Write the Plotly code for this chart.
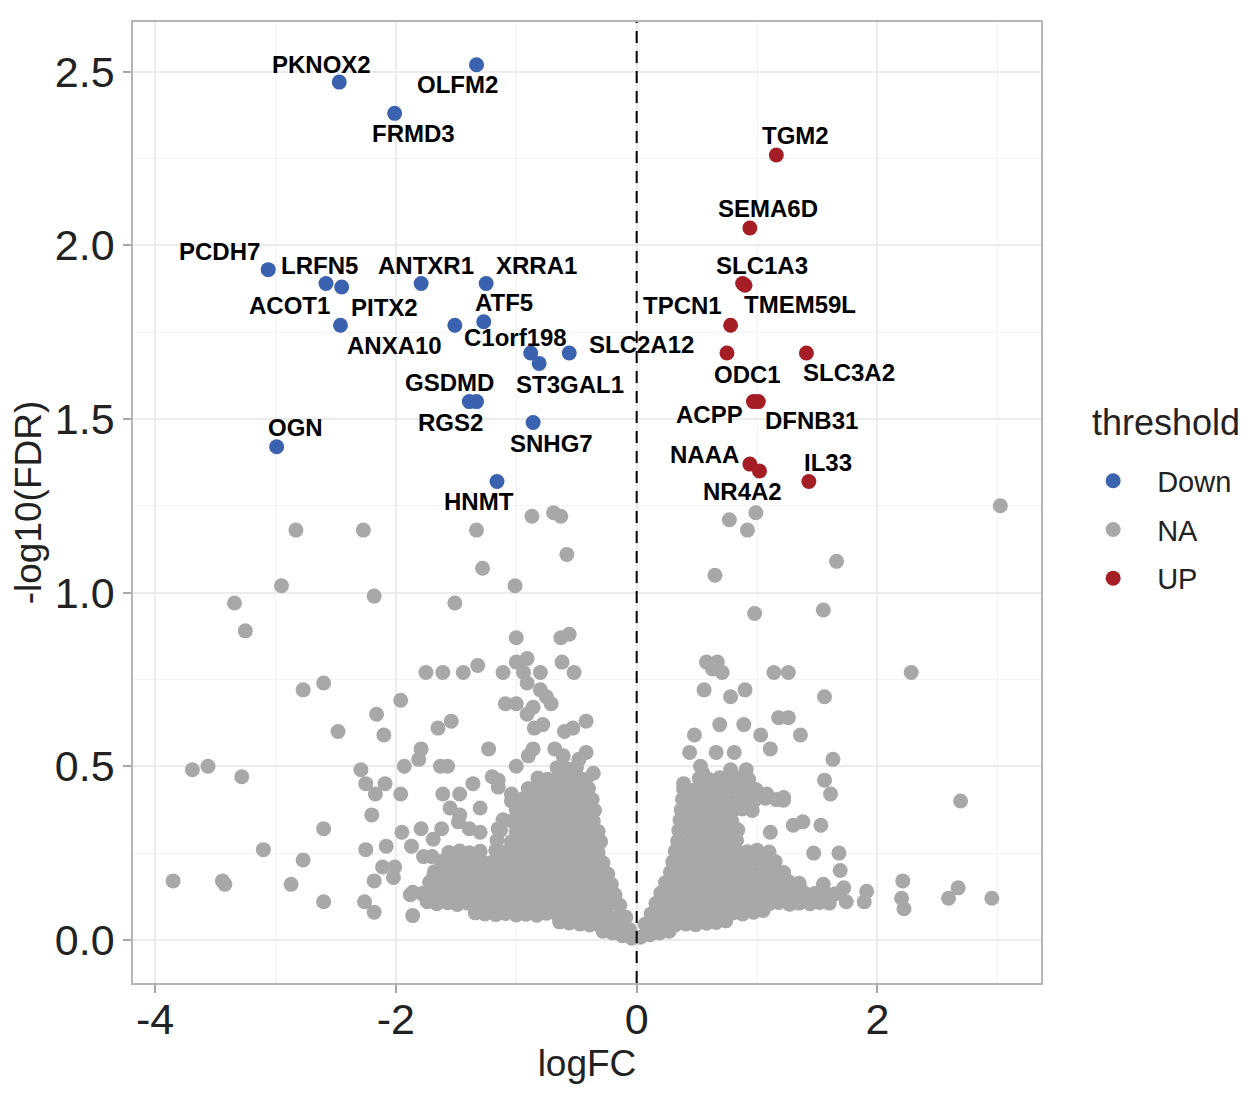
import plotly.graph_objects as go

# significant genes
down_genes = ["PKNOX2", "OLFM2", "FRMD3", "PCDH7", "LRFN5", "ACOT1", "ANTXR1", "XRRA1",
              "PITX2", "ANXA10", "ATF5", "C1orf198", "ST3GAL1", "SLC2A12", "GSDMD", "RGS2",
              "SNHG7", "OGN", "HNMT"]
down_logfc = [-2.47, -1.33, -2.01, -3.06, -2.58, -2.45, -1.79, -1.25,
              -2.46, -1.51, -1.27, -0.88, -0.81, -0.56, -1.39, -1.33,
              -0.86, -2.99, -1.16]
down_fdr = [2.47, 2.52, 2.38, 1.93, 1.89, 1.88, 1.89, 1.89,
            1.77, 1.77, 1.78, 1.69, 1.66, 1.69, 1.55, 1.55,
            1.49, 1.42, 1.32]

up_genes = ["TGM2", "SEMA6D", "SLC1A3", "TMEM59L", "TPCN1", "ODC1", "SLC3A2",
            "ACPP", "DFNB31", "NAAA", "NR4A2", "IL33"]
up_logfc = [1.16, 0.94, 0.88, 0.90, 0.78, 0.75, 1.41, 0.97, 1.01, 0.94, 1.02, 1.43]
up_fdr = [2.26, 2.05, 1.89, 1.885, 1.77, 1.69, 1.69, 1.55, 1.55, 1.37, 1.35, 1.32]

# non-significant genes, (logFC, -log10(FDR)) pairs
ns_left_tail = [
    (-2.83, 1.18), (-2.27, 1.18), (-2.95, 1.02), (-2.18, 0.99), (-3.34, 0.97), (-3.25, 0.89),
    (-2.77, 0.72), (-2.60, 0.74), (-2.16, 0.65), (-2.48, 0.60), (-2.10, 0.59), (-3.69, 0.49),
    (-3.56, 0.50), (-3.28, 0.47), (-2.29, 0.49), (-2.25, 0.45), (-2.17, 0.42), (-2.09, 0.45),
    (-2.20, 0.36), (-2.60, 0.32), (-3.10, 0.26), (-2.77, 0.23), (-2.25, 0.26), (-2.08, 0.27),
    (-2.11, 0.21), (-3.85, 0.17), (-3.44, 0.17), (-3.42, 0.16), (-2.87, 0.16), (-2.60, 0.11),
    (-2.26, 0.11), (-2.18, 0.08), (-2.18, 0.17),
    (-0.87, 1.22), (-0.69, 1.23), (-0.63, 1.22), (-1.33, 1.18), (-0.58, 1.11), (-1.28, 1.07),
    (-1.01, 1.02), (-1.51, 0.97), (-1.00, 0.87), (-0.63, 0.87), (-0.56, 0.88), (-1.75, 0.77),
    (-1.61, 0.77), (-1.44, 0.77), (-1.32, 0.79), (-1.11, 0.77), (-1.00, 0.80), (-0.91, 0.81),
    (-0.94, 0.77), (-0.80, 0.77), (-0.62, 0.80), (-0.52, 0.77), (-0.91, 0.74), (-0.80, 0.72),
    (-1.96, 0.69), (-1.09, 0.68), (-1.00, 0.68), (-0.91, 0.65), (-0.86, 0.67), (-0.71, 0.68),
    (-0.75, 0.70), (-1.65, 0.61), (-1.54, 0.63), (-0.85, 0.61), (-0.78, 0.62), (-0.60, 0.60),
    (-0.53, 0.61), (-0.42, 0.63), (-1.79, 0.55), (-1.81, 0.52), (-1.23, 0.55), (-0.86, 0.55),
    (-0.90, 0.53), (-0.68, 0.55), (-0.61, 0.53), (-0.42, 0.54), (-0.48, 0.52), (-1.93, 0.50),
    (-1.63, 0.50), (-1.57, 0.50), (-1.00, 0.50), (-0.36, 0.48), (-1.36, 0.45), (-1.20, 0.47),
    (-1.15, 0.46), (-1.96, 0.42), (-1.61, 0.42), (-1.47, 0.42), (-1.15, 0.44), (-1.04, 0.42),
    (-1.55, 0.38), (-1.47, 0.36), (-1.30, 0.38), (-1.48, 0.34), (-1.62, 0.32), (-1.79, 0.32),
    (-1.95, 0.31), (-1.69, 0.29), (-1.87, 0.27), (-1.77, 0.24), (-1.70, 0.24), (-2.01, 0.21),
    (-2.02, 0.18), (-1.69, 0.18), (-1.88, 0.13), (-1.77, 0.13), (-1.86, 0.07), (-1.39, 0.32),
    (-1.30, 0.31), (-1.15, 0.32), (-1.04, 0.40),
]

ns_left_core = [
    (-0.28, 0.025), (-0.20, 0.02), (-0.12, 0.012), (-0.04, 0.005),
    (-0.64, 0.052), (-0.56, 0.049), (-0.47, 0.046), (-0.39, 0.043), (-0.30, 0.041), (-0.22, 0.038),
    (-0.13, 0.034), (-0.06, 0.03),
    (-1.34, 0.078), (-1.26, 0.075), (-1.17, 0.073), (-1.09, 0.076), (-1.00, 0.072), (-0.92, 0.074),
    (-0.83, 0.071), (-0.75, 0.077), (-0.66, 0.073), (-0.58, 0.075), (-0.49, 0.072), (-0.41, 0.076),
    (-0.32, 0.073), (-0.24, 0.07), (-0.15, 0.068), (-0.09, 0.065),
    (-1.74, 0.11), (-1.66, 0.104), (-1.57, 0.107), (-1.49, 0.102), (-1.40, 0.106), (-1.32, 0.103),
    (-1.23, 0.108), (-1.15, 0.104), (-1.06, 0.105), (-0.98, 0.102), (-0.89, 0.107), (-0.81, 0.104),
    (-0.72, 0.106), (-0.64, 0.103), (-0.55, 0.108), (-0.47, 0.104), (-0.38, 0.105), (-0.30, 0.102),
    (-0.21, 0.106), (-0.14, 0.10),
    (-1.86, 0.137), (-1.78, 0.134), (-1.70, 0.138), (-1.61, 0.133), (-1.53, 0.136), (-1.44, 0.134),
    (-1.36, 0.139), (-1.27, 0.135), (-1.19, 0.132), (-1.10, 0.137), (-1.02, 0.134), (-0.93, 0.136),
    (-0.85, 0.133), (-0.76, 0.138), (-0.68, 0.135), (-0.59, 0.132), (-0.51, 0.136), (-0.42, 0.134),
    (-0.34, 0.137), (-0.25, 0.133), (-0.18, 0.13),
    (-1.72, 0.166), (-1.64, 0.163), (-1.55, 0.168), (-1.47, 0.164), (-1.38, 0.167), (-1.30, 0.162),
    (-1.21, 0.166), (-1.13, 0.169), (-1.04, 0.164), (-0.96, 0.167), (-0.87, 0.163), (-0.79, 0.166),
    (-0.70, 0.168), (-0.62, 0.164), (-0.53, 0.167), (-0.45, 0.163), (-0.36, 0.166), (-0.28, 0.164),
    (-0.21, 0.16),
    (-1.68, 0.196), (-1.59, 0.193), (-1.51, 0.198), (-1.42, 0.194), (-1.34, 0.197), (-1.25, 0.192),
    (-1.17, 0.196), (-1.08, 0.199), (-1.00, 0.194), (-0.91, 0.197), (-0.83, 0.193), (-0.74, 0.196),
    (-0.66, 0.198), (-0.57, 0.194), (-0.49, 0.197), (-0.40, 0.193), (-0.32, 0.196), (-0.24, 0.19),
    (-1.62, 0.226), (-1.55, 0.223), (-1.46, 0.228), (-1.38, 0.224), (-1.29, 0.227), (-1.21, 0.222),
    (-1.12, 0.226), (-1.04, 0.229), (-0.95, 0.224), (-0.87, 0.227), (-0.78, 0.223), (-0.70, 0.226),
    (-0.61, 0.228), (-0.53, 0.224), (-0.44, 0.227), (-0.36, 0.223), (-0.28, 0.222),
    (-1.56, 0.252), (-1.47, 0.256), (-1.39, 0.251), (-1.30, 0.255), (-1.17, 0.258), (-1.08, 0.254),
    (-1.00, 0.257), (-0.91, 0.253), (-0.83, 0.256), (-0.74, 0.258), (-0.66, 0.254), (-0.57, 0.257),
    (-0.49, 0.253), (-0.40, 0.256), (-0.32, 0.252),
    (-1.16, 0.286), (-1.04, 0.283), (-0.95, 0.288), (-0.87, 0.284), (-0.78, 0.287), (-0.70, 0.282),
    (-0.61, 0.286), (-0.53, 0.289), (-0.44, 0.284), (-0.36, 0.287), (-0.30, 0.283),
    (-1.13, 0.316), (-1.00, 0.313), (-0.91, 0.318), (-0.83, 0.314), (-0.74, 0.317), (-0.66, 0.312),
    (-0.57, 0.316), (-0.49, 0.319), (-0.40, 0.314), (-0.32, 0.312),
    (-1.11, 0.346), (-1.04, 0.343), (-0.95, 0.348), (-0.87, 0.344), (-0.78, 0.347), (-0.70, 0.342),
    (-0.61, 0.346), (-0.53, 0.349), (-0.44, 0.344), (-0.36, 0.342),
    (-1.00, 0.376), (-0.91, 0.373), (-0.83, 0.378), (-0.74, 0.374), (-0.66, 0.377), (-0.57, 0.372),
    (-0.49, 0.376), (-0.41, 0.379), (-0.35, 0.373),
    (-0.95, 0.406), (-0.87, 0.403), (-0.78, 0.408), (-0.70, 0.404), (-0.61, 0.407), (-0.53, 0.402),
    (-0.44, 0.406), (-0.37, 0.404),
    (-0.90, 0.436), (-0.82, 0.433), (-0.74, 0.438), (-0.66, 0.434), (-0.57, 0.437), (-0.49, 0.432),
    (-0.40, 0.436),
    (-0.82, 0.466), (-0.74, 0.463), (-0.65, 0.468), (-0.57, 0.464), (-0.48, 0.467), (-0.42, 0.462),
    (-0.66, 0.496), (-0.58, 0.493), (-0.50, 0.497),
]

ns_right_core = [
    (0.03, 0.008), (0.11, 0.015), (0.19, 0.02), (0.27, 0.025),
    (0.07, 0.045), (0.15, 0.042), (0.24, 0.047), (0.32, 0.043), (0.41, 0.046), (0.49, 0.044),
    (0.58, 0.048), (0.66, 0.05), (0.74, 0.055),
    (0.12, 0.075), (0.20, 0.072), (0.29, 0.077), (0.37, 0.073), (0.46, 0.076), (0.54, 0.072),
    (0.63, 0.077), (0.71, 0.074), (0.80, 0.078), (0.88, 0.075), (0.97, 0.08), (1.05, 0.085),
    (0.16, 0.105), (0.25, 0.102), (0.33, 0.107), (0.42, 0.103), (0.50, 0.106), (0.59, 0.102),
    (0.67, 0.107), (0.76, 0.104), (0.84, 0.108), (0.93, 0.103), (1.01, 0.106), (1.10, 0.104),
    (1.18, 0.108), (1.27, 0.103), (1.35, 0.106), (1.44, 0.104), (1.52, 0.108), (1.60, 0.106),
    (0.20, 0.135), (0.29, 0.132), (0.37, 0.137), (0.46, 0.133), (0.54, 0.136), (0.63, 0.132),
    (0.71, 0.137), (0.80, 0.134), (0.88, 0.138), (0.97, 0.133), (1.05, 0.136), (1.14, 0.134),
    (1.22, 0.138), (1.31, 0.133), (1.39, 0.136), (1.48, 0.134), (1.56, 0.138), (1.65, 0.133),
    (0.24, 0.165), (0.33, 0.162), (0.41, 0.167), (0.50, 0.163), (0.58, 0.166), (0.67, 0.162),
    (0.75, 0.167), (0.84, 0.164), (0.92, 0.168), (1.01, 0.163), (1.09, 0.166), (1.18, 0.164),
    (1.26, 0.168), (1.35, 0.163),
    (0.28, 0.195), (0.37, 0.192), (0.45, 0.197), (0.54, 0.193), (0.62, 0.196), (0.71, 0.192),
    (0.79, 0.197), (0.88, 0.194), (0.96, 0.198), (1.05, 0.193), (1.13, 0.196), (1.22, 0.194),
    (0.30, 0.225), (0.39, 0.222), (0.47, 0.227), (0.56, 0.223), (0.64, 0.226), (0.73, 0.222),
    (0.81, 0.227), (0.90, 0.224), (0.98, 0.228), (1.07, 0.223), (1.15, 0.226),
    (0.32, 0.255), (0.41, 0.252), (0.49, 0.257), (0.58, 0.253), (0.66, 0.256), (0.75, 0.252),
    (0.83, 0.257), (0.92, 0.254), (1.00, 0.258), (1.10, 0.253),
    (0.34, 0.285), (0.43, 0.282), (0.51, 0.287), (0.60, 0.283), (0.68, 0.286), (0.77, 0.282),
    (0.83, 0.287),
    (0.35, 0.315), (0.44, 0.312), (0.52, 0.317), (0.61, 0.313), (0.69, 0.316), (0.78, 0.312),
    (0.84, 0.317),
    (0.36, 0.345), (0.45, 0.342), (0.53, 0.347), (0.62, 0.343), (0.70, 0.346), (0.79, 0.342),
    (0.37, 0.375), (0.46, 0.372), (0.54, 0.377), (0.63, 0.373), (0.71, 0.376), (0.80, 0.372),
    (0.88, 0.377), (0.96, 0.373),
    (0.38, 0.405), (0.47, 0.402), (0.55, 0.407), (0.64, 0.403), (0.72, 0.406), (0.81, 0.402),
    (0.89, 0.407), (0.98, 0.403), (1.07, 0.408), (1.16, 0.404), (1.22, 0.402),
    (0.39, 0.435), (0.48, 0.432), (0.56, 0.437), (0.65, 0.433), (0.73, 0.436), (0.82, 0.432),
    (0.90, 0.437), (0.99, 0.433), (1.08, 0.42),
    (0.52, 0.465), (0.60, 0.462), (0.69, 0.467), (0.78, 0.463), (0.86, 0.466), (0.93, 0.462),
]

ns_right_tail = [
    (0.77, 1.21), (0.99, 1.23), (0.92, 1.18), (1.66, 1.09), (0.65, 1.05), (0.98, 0.94),
    (1.55, 0.95), (0.58, 0.80), (0.67, 0.80), (0.63, 0.78), (0.71, 0.77), (1.14, 0.77),
    (1.26, 0.77), (0.56, 0.72), (0.78, 0.70), (0.90, 0.72), (1.56, 0.70), (1.18, 0.64),
    (1.26, 0.64), (0.69, 0.62), (0.89, 0.62), (0.48, 0.59), (1.03, 0.59), (1.36, 0.59),
    (1.11, 0.55), (0.44, 0.54), (0.66, 0.54), (0.81, 0.54), (1.63, 0.52), (1.56, 0.46),
    (1.61, 0.42), (0.53, 0.50), (0.55, 0.48), (0.78, 0.49), (0.91, 0.49), (0.39, 0.45),
    (1.30, 0.33), (1.38, 0.34), (1.53, 0.33), (1.47, 0.25), (1.68, 0.25), (1.69, 0.20),
    (1.91, 0.14), (1.89, 0.11), (2.21, 0.17), (2.20, 0.12), (2.22, 0.09), (2.59, 0.12),
    (2.67, 0.15), (2.95, 0.12), (3.02, 1.25), (2.28, 0.77), (2.69, 0.40), (1.11, 0.31),
    (1.22, 0.41), (1.74, 0.11), (1.55, 0.16), (1.72, 0.15),
]

# label offsets in px from each point (dx right, dy down), as placed in the reference
label_offsets = {
    "PKNOX2": (-18, -18), "OLFM2": (-19, 20), "FRMD3": (19, 20), "PCDH7": (-49, -18),
    "LRFN5": (-7, -18), "ACOT1": (-52, 18), "ANTXR1": (5, -18), "XRRA1": (50, -18),
    "PITX2": (44, -18), "ANXA10": (-60, 20), "ATF5": (20, -19), "C1orf198": (-15, -15),
    "ST3GAL1": (31, 21), "SLC2A12": (72, -8), "GSDMD": (-20, -19), "RGS2": (-26, 21),
    "SNHG7": (18, 21), "OGN": (19, -19), "HNMT": (-18, 20),
    "TGM2": (19, -20), "SEMA6D": (18, -19), "SLC1A3": (19, -18), "TMEM59L": (55, 19),
    "TPCN1": (-48, -20), "ODC1": (21, 22), "SLC3A2": (43, 20), "ACPP": (-44, 13),
    "DFNB31": (53, 19), "NAAA": (-45, -10), "NR4A2": (-17, 20), "IL33": (19, -19),
}

x_ticks = [-4, -2, 0, 2]
x_ticktext = ["-4", "-2", "0", "2"]
y_ticks = [0, 0.5, 1.0, 1.5, 2.0, 2.5]
y_ticktext = ["0.0", "0.5", "1.0", "1.5", "2.0", "2.5"]

FONT = "Liberation Sans, Arial, sans-serif"
BLUE = "#3A62AE"
GREY = "#A8A8A8"
RED = "#A51E25"

ns_all = ns_left_tail + ns_left_core + ns_right_core + ns_right_tail
ns_x = [p[0] for p in ns_all]
ns_y = [p[1] for p in ns_all]

fig = go.Figure()
fig.add_trace(go.Scatter(x=ns_x, y=ns_y, mode="markers", name="NA", legendrank=2,
                         legendgroup="na", marker=dict(color=GREY, size=15, line=dict(width=0))))
fig.add_trace(go.Scatter(x=down_logfc, y=down_fdr, mode="markers", name="Down", legendrank=1,
                         legendgroup="down", text=down_genes,
                         marker=dict(color=BLUE, size=15, line=dict(width=0))))
fig.add_trace(go.Scatter(x=up_logfc, y=up_fdr, mode="markers", name="UP", legendrank=3,
                         legendgroup="up", text=up_genes,
                         marker=dict(color=RED, size=15, line=dict(width=0))))

# gene labels
for genes, xs, ys in [(down_genes, down_logfc, down_fdr), (up_genes, up_logfc, up_fdr)]:
    for g, xv, yv in zip(genes, xs, ys):
        dx, dy = label_offsets[g]
        fig.add_annotation(x=xv, y=yv, text=g, showarrow=False, xshift=dx, yshift=-dy,
                           font=dict(family=FONT, size=24, color="black", weight="bold"))

# legend title drawn as text so the gap below it can match
fig.add_annotation(x=1.054, y=0.583, xref="paper", yref="paper", xanchor="left", yanchor="middle",
                   text="threshold", showarrow=False,
                   font=dict(family=FONT, size=36, color="#222222"))

# dashed line at logFC = 0
fig.add_shape(type="line", x0=0, x1=0, xref="x", y0=0, y1=1, yref="paper", layer="above",
              line=dict(color="black", width=2, dash="12px,8px"))

axis_common = dict(
    showgrid=True, gridcolor="#EBEBEB", gridwidth=1.5, zeroline=False,
    showline=True, mirror=True, linecolor="#B5B5B5", linewidth=1.5,
    ticks="outside", ticklen=8, tickwidth=1.5, tickcolor="#A8A8A8",
    tickfont=dict(family=FONT, size=43, color="#222222"),
)

fig.update_xaxes(range=[-4.183, 3.358], tickmode="array", tickvals=x_ticks, ticktext=x_ticktext,
                 ticklabelstandoff=-10,
                 minor=dict(tickvals=[-3, -1, 1, 3], showgrid=True, gridcolor="#F3F3F3", gridwidth=1),
                 title=dict(text="logFC", font=dict(family=FONT, size=37, color="#222222"), standoff=8),
                 **axis_common)
fig.update_yaxes(range=[-0.124, 2.643], tickmode="array", tickvals=y_ticks, ticktext=y_ticktext,
                 minor=dict(tickvals=[0.25, 0.75, 1.25, 1.75, 2.25], showgrid=True,
                            gridcolor="#F3F3F3", gridwidth=1),
                 title=dict(text="-log10(FDR)", font=dict(family=FONT, size=37, color="#222222"), standoff=8),
                 **axis_common)

# the page adds an 8px body margin, so the figure is 8px smaller than the window
fig.update_layout(
    width=1242, height=1086,
    margin=dict(l=125, r=209, t=14, b=111),
    plot_bgcolor="white", paper_bgcolor="white",
    font=dict(family=FONT),
    legend=dict(x=1.031, y=0.549, xanchor="left", yanchor="top",
                font=dict(family=FONT, size=29, color="#222222"),
                itemwidth=78, tracegroupgap=8, bgcolor="rgba(0,0,0,0)"),
    showlegend=True,
)

fig.write_html("out.html")
